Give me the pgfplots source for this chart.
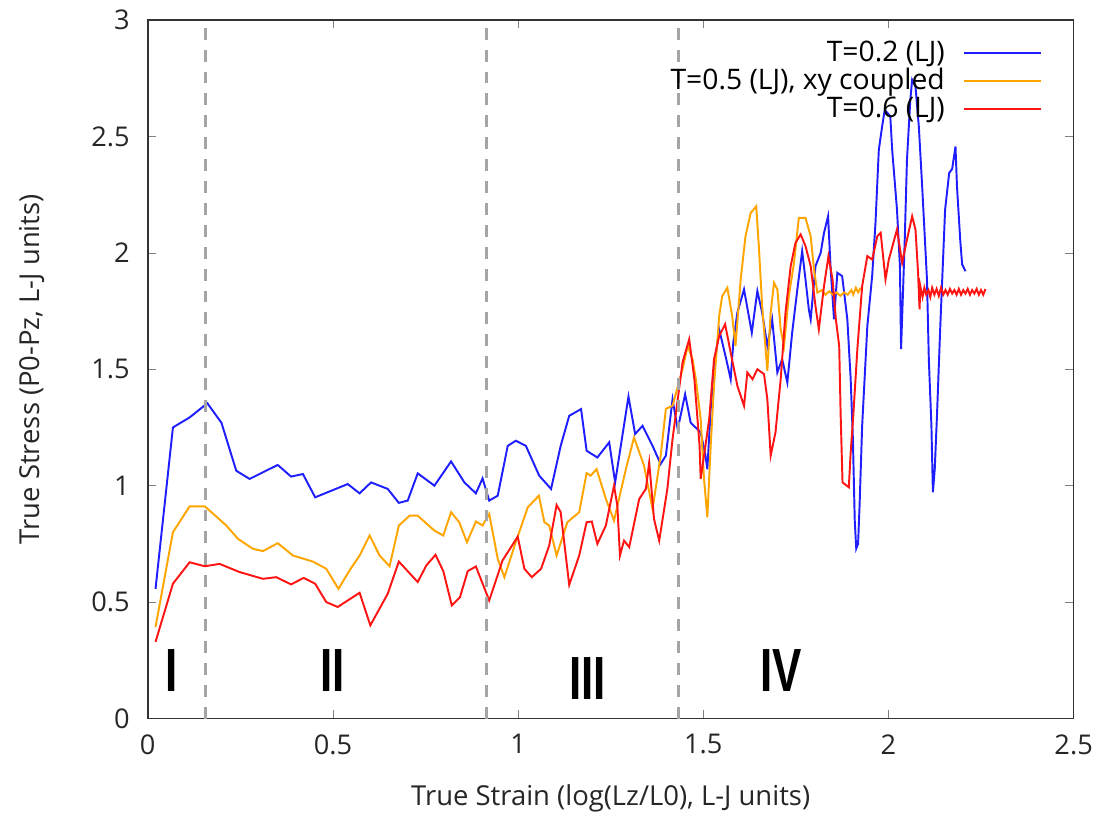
\documentclass[border=0pt]{standalone}
\usepackage{pgfplots}
\pgfplotsset{compat=1.18}
\usepackage{fontspec}
\setmainfont{Open Sans}
\newfontfamily\romfont[FakeStretch=0.72]{Liberation Sans}
\definecolor{cblue}{RGB}{30,30,255}
\definecolor{corange}{RGB}{255,165,0}
\definecolor{cred}{RGB}{255,20,20}
\definecolor{dgray}{RGB}{165,165,165}
\begin{document}
\begin{tikzpicture}
\begin{axis}[
  scale only axis, width=334pt, height=252pt,
  xmin=0, xmax=2.5, ymin=0, ymax=3,
  xtick={0,0.5,1,1.5,2,2.5}, ytick={0,0.5,1,1.5,2,2.5,3},
  tick align=inside, major tick length=3pt,
  xtick pos=both, ytick pos=both,
  /pgf/number format/assume math mode=true,
  tick label style={font=\fontsize{9.8}{11}\selectfont, color=black!85},
  yticklabel style={xshift=-3pt},
  xticklabel style={yshift=-2.2pt},
  label style={font=\fontsize{9.9}{11}\selectfont, color=black!85},
  xlabel={True Strain (log(Lz/L0), L-J units)},
  ylabel={True Stress (P0-Pz, L-J units)},
  xlabel style={yshift=-4pt}, ylabel style={yshift=10pt},
  axis line style={black!80, line width=0.6pt},
  legend style={draw=none, fill=none, at={(0.975,0.987)}, anchor=north east,
    font=\fontsize{10.2}{11}\selectfont, row sep=-3pt},
  legend cell align=right, legend plot pos=right,
  legend image code/.code={\path (0pt,0pt); \draw[#1, line width=0.75pt] (4.5pt,0pt) -- (32.2pt,0pt);},
  every axis plot/.append style={line width=0.7pt},
]
\addplot[cblue] coordinates {
(0.021,0.557)(0.068,1.25)(0.113,1.293)(0.161,1.354)(0.199,1.27)(0.239,1.064)(0.275,1.029)
(0.351,1.089)(0.387,1.039)(0.419,1.05)(0.452,0.95)(0.54,1.007)(0.572,0.967)(0.603,1.014)
(0.648,0.986)(0.678,0.926)(0.702,0.936)(0.729,1.053)(0.774,1.0)(0.819,1.104)(0.855,1.014)
(0.886,0.967)(0.904,1.031)(0.922,0.936)(0.945,0.957)(0.972,1.171)(0.994,1.193)(1.021,1.171)
(1.057,1.043)(1.089,0.986)(1.115,1.171)(1.138,1.3)(1.17,1.329)(1.185,1.15)(1.214,1.121)
(1.246,1.186)(1.262,1.014)(1.298,1.383)(1.316,1.222)(1.336,1.257)(1.363,1.171)(1.385,1.093)
(1.399,1.129)(1.417,1.371)(1.431,1.243)(1.451,1.393)(1.466,1.27)(1.493,1.229)(1.506,1.129)
(1.511,1.07)(1.52,1.329)(1.531,1.529)(1.543,1.671)(1.562,1.543)(1.574,1.457)(1.581,1.614)
(1.592,1.743)(1.61,1.843)(1.631,1.657)(1.646,1.836)(1.659,1.743)(1.673,1.6)(1.686,1.714)
(1.7,1.486)(1.713,1.543)(1.727,1.443)(1.74,1.657)(1.754,1.843)(1.767,2.007)(1.776,1.886)
(1.785,1.757)(1.79,1.714)(1.803,1.943)(1.817,2.0)(1.826,2.086)(1.837,2.157)(1.844,1.929)
(1.853,1.714)(1.862,1.914)(1.875,1.9)(1.889,1.714)(1.898,1.457)(1.904,1.2)(1.909,0.85)
(1.913,0.73)(1.918,0.75)(1.922,0.914)(1.929,1.257)(1.943,1.686)(1.956,1.9)(1.965,2.129)
(1.974,2.443)(1.983,2.543)(1.99,2.614)(2.005,2.586)(2.01,2.443)(2.023,2.186)(2.031,1.943)
(2.034,1.586)(2.038,1.771)(2.044,2.057)(2.05,2.4)(2.059,2.657)(2.064,2.743)(2.073,2.714)
(2.082,2.543)(2.091,2.286)(2.104,1.886)(2.109,1.543)(2.116,1.257)(2.12,0.971)(2.125,1.071)
(2.131,1.3)(2.14,1.686)(2.153,2.186)(2.164,2.343)(2.172,2.36)(2.181,2.457)(2.185,2.286)
(2.194,2.05)(2.199,1.95)(2.208,1.921)
};
\addlegendentry{T=0.2 (LJ)}
\addplot[corange] coordinates {
(0.021,0.393)(0.068,0.8)(0.113,0.911)(0.154,0.911)(0.172,0.886)(0.212,0.829)(0.244,0.771)
(0.284,0.729)(0.311,0.719)(0.351,0.753)(0.392,0.7)(0.446,0.674)(0.482,0.643)(0.515,0.557)
(0.545,0.636)(0.572,0.7)(0.599,0.786)(0.626,0.7)(0.653,0.654)(0.678,0.829)(0.707,0.871)
(0.729,0.871)(0.774,0.807)(0.798,0.786)(0.819,0.886)(0.841,0.843)(0.862,0.757)(0.886,0.846)
(0.904,0.829)(0.922,0.879)(0.945,0.686)(0.963,0.607)(0.99,0.74)(1.026,0.907)(1.056,0.957)
(1.071,0.843)(1.084,0.829)(1.104,0.7)(1.133,0.843)(1.165,0.886)(1.185,1.054)(1.196,1.043)
(1.212,1.071)(1.237,0.943)(1.259,0.85)(1.291,1.071)(1.313,1.207)(1.34,1.086)(1.363,0.9)
(1.385,1.129)(1.399,1.33)(1.417,1.343)(1.444,1.5)(1.458,1.6)(1.471,1.543)(1.48,1.457)
(1.493,1.286)(1.502,1.029)(1.511,0.864)(1.52,1.171)(1.529,1.429)(1.543,1.729)(1.551,1.814)
(1.565,1.85)(1.578,1.729)(1.587,1.6)(1.601,1.886)(1.614,2.071)(1.628,2.171)(1.643,2.2)
(1.65,2.029)(1.659,1.771)(1.673,1.493)(1.682,1.743)(1.691,1.871)(1.7,1.843)(1.709,1.671)
(1.718,1.6)(1.731,1.814)(1.745,1.957)(1.758,2.15)(1.776,2.15)(1.79,2.071)(1.799,1.929)
(1.808,1.829)(1.82,1.84)(1.83,1.82)(1.84,1.835)(1.85,1.82)(1.86,1.83)(1.87,1.815)(1.88,1.83)
(1.89,1.82)(1.9,1.84)(1.905,1.82)(1.912,1.85)(1.918,1.83)(1.925,1.85)
};
\addlegendentry{T=0.5 (LJ), xy coupled}
\addplot[cred] coordinates {
(0.021,0.329)(0.068,0.579)(0.113,0.671)(0.154,0.654)(0.194,0.664)(0.248,0.629)(0.311,0.6)
(0.347,0.607)(0.387,0.576)(0.421,0.604)(0.452,0.579)(0.482,0.5)(0.513,0.479)(0.572,0.54)
(0.601,0.4)(0.648,0.536)(0.678,0.674)(0.729,0.586)(0.752,0.657)(0.777,0.703)(0.798,0.633)
(0.821,0.486)(0.843,0.521)(0.864,0.633)(0.886,0.653)(0.922,0.507)(0.958,0.679)(0.999,0.781)
(1.017,0.643)(1.037,0.607)(1.062,0.643)(1.084,0.743)(1.104,0.917)(1.115,0.886)(1.138,0.574)
(1.165,0.7)(1.185,0.843)(1.199,0.846)(1.214,0.75)(1.237,0.829)(1.259,1.0)(1.268,0.914)
(1.275,0.7)(1.286,0.764)(1.3,0.736)(1.327,0.943)(1.345,0.986)(1.354,1.1)(1.367,0.857)
(1.381,0.764)(1.403,0.986)(1.417,1.2)(1.444,1.529)(1.462,1.629)(1.476,1.457)(1.49,1.171)
(1.493,1.029)(1.502,1.129)(1.516,1.286)(1.529,1.543)(1.543,1.643)(1.559,1.693)(1.574,1.571)
(1.592,1.429)(1.61,1.343)(1.619,1.486)(1.633,1.457)(1.646,1.5)(1.664,1.479)(1.673,1.371)
(1.682,1.129)(1.695,1.229)(1.709,1.457)(1.722,1.743)(1.736,1.943)(1.749,2.043)(1.763,2.079)
(1.776,2.029)(1.79,1.943)(1.803,1.771)(1.812,1.671)(1.826,1.857)(1.838,1.986)(1.849,1.886)
(1.858,1.714)(1.867,1.6)(1.871,1.3)(1.876,1.014)(1.893,0.993)(1.898,1.143)(1.905,1.3)
(1.916,1.586)(1.929,1.857)(1.943,1.986)(1.956,1.971)(1.97,2.071)(1.979,2.086)(1.992,1.886)
(2.001,1.971)(2.023,2.1)(2.037,1.957)(2.05,2.057)(2.064,2.157)(2.073,2.1)(2.08,1.914)
(2.084,1.757)(2.086,1.857)(2.092,1.81)(2.097,1.85)(2.102,1.82)(2.108,1.84)(2.113,1.81)
(2.118,1.85)(2.124,1.82)(2.13,1.845)(2.136,1.815)(2.142,1.85)(2.148,1.82)(2.154,1.84)
(2.16,1.82)(2.166,1.845)(2.172,1.825)(2.178,1.84)(2.184,1.82)(2.19,1.845)(2.196,1.82)
(2.202,1.84)(2.208,1.825)(2.214,1.845)(2.22,1.82)(2.226,1.84)(2.232,1.825)(2.238,1.845)
(2.244,1.82)(2.25,1.84)(2.256,1.82)(2.262,1.845)
};
\addlegendentry{T=0.6 (LJ)}
\addplot[dgray, line width=1.1pt, dash pattern=on 4.3pt off 3.6pt, forget plot] coordinates {(0.156,0)(0.156,3)};
\addplot[dgray, line width=1.1pt, dash pattern=on 4.3pt off 3.6pt, forget plot] coordinates {(0.914,0)(0.914,3)};
\addplot[dgray, line width=1.1pt, dash pattern=on 4.3pt off 3.6pt, forget plot] coordinates {(1.432,0)(1.432,3)};
\node[font=\romfont\bfseries\fontsize{22}{24}\selectfont] at (axis cs:0.065,0.206) {I};
\node[font=\romfont\bfseries\fontsize{22}{24}\selectfont] at (axis cs:0.5,0.206) {II};
\node[font=\romfont\bfseries\fontsize{22}{24}\selectfont] at (axis cs:1.187,0.17) {III};
\node[font=\romfont\bfseries\fontsize{22}{24}\selectfont] at (axis cs:1.71,0.206) {IV};
\end{axis}
\path (current axis.south west) ++(-53.3pt,-34.2pt);
\path (current axis.north east) ++(9.8pt,7.2pt);
\end{tikzpicture}
\end{document}
